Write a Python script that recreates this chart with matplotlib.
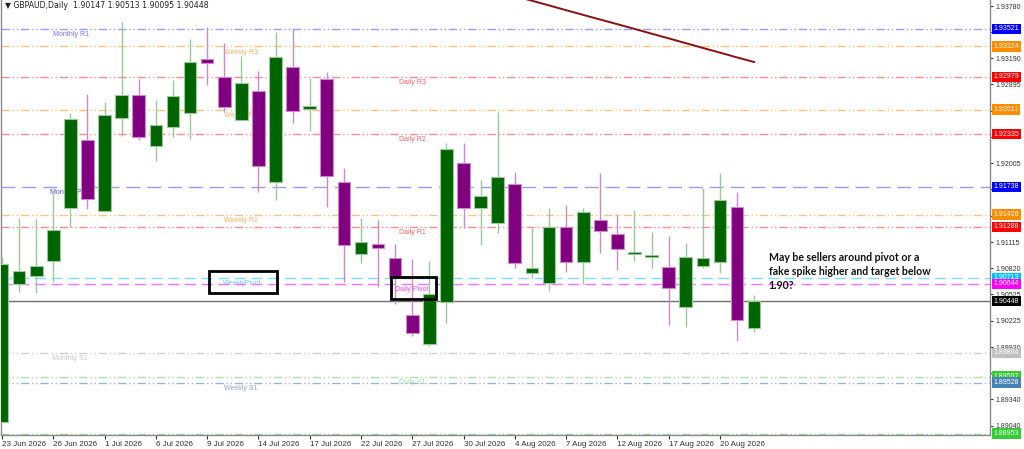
import matplotlib.pyplot as plt
from matplotlib.patches import Rectangle

# daily GBPAUD candles
opens = [1.89085, 1.90642, 1.90733, 1.90902, 1.91500, 1.92268, 1.91466, 1.92516, 1.92776, 1.92200,
         1.92414, 1.92572, 1.93182, 1.92979, 1.92493, 1.92821, 1.91794, 1.93092, 1.92618, 1.92956,
         1.91794, 1.90981, 1.91094, 1.90936, 1.90293, 1.89965, 1.90439, 1.92008, 1.91500, 1.91331,
         1.91771, 1.90767, 1.90654, 1.91286, 1.90891, 1.91365, 1.91207, 1.90981, 1.90947, 1.90834,
         1.90383, 1.90846, 1.90891, 1.91512, 1.90147]
highs = [1.90947, 1.91387, 1.91376, 1.91703, 1.92572, 1.92787, 1.92697, 1.93599, 1.92956, 1.92719,
         1.92945, 1.93408, 1.93543, 1.93362, 1.93216, 1.93046, 1.93487, 1.93532, 1.92967, 1.93035,
         1.91952, 1.91387, 1.91365, 1.91094, 1.90925, 1.90902, 1.92234, 1.92234, 1.91816, 1.92584,
         1.91907, 1.91275, 1.91500, 1.91534, 1.91500, 1.91895, 1.91432, 1.91478, 1.91229, 1.91184,
         1.91105, 1.91726, 1.91895, 1.91681, 1.90513]
lows = [1.89080, 1.90552, 1.90541, 1.90665, 1.91286, 1.91489, 1.91460, 1.92313, 1.92268, 1.92031,
        1.92302, 1.92279, 1.92888, 1.92584, 1.92490, 1.91681, 1.91591, 1.92460, 1.92369, 1.91512,
        1.90665, 1.90880, 1.90609, 1.90417, 1.90056, 1.89943, 1.90202, 1.91275, 1.91083, 1.91218,
        1.90823, 1.90710, 1.90564, 1.90778, 1.90642, 1.90992, 1.90801, 1.90902, 1.90823, 1.90180,
        1.90157, 1.90823, 1.90767, 1.89999, 1.90095]
closes = [1.90868, 1.90789, 1.90846, 1.91252, 1.92505, 1.91602, 1.92550, 1.92776, 1.92302, 1.92437,
          1.92764, 1.93148, 1.93137, 1.92640, 1.92911, 1.91974, 1.93204, 1.92595, 1.92651, 1.91861,
          1.91083, 1.91117, 1.91049, 1.90722, 1.90090, 1.90530, 1.92166, 1.91500, 1.91636, 1.91850,
          1.90880, 1.90823, 1.91286, 1.90891, 1.91455, 1.91241, 1.91038, 1.91004, 1.90970, 1.90597,
          1.90947, 1.90936, 1.91591, 1.90236, 1.90448]

# moving average (only the tail is visible)
ma_start = 30
ma_vals = [1.93893, 1.93840, 1.93787, 1.93733, 1.93680, 1.93627, 1.93575, 1.93522,
           1.93468, 1.93415, 1.93361, 1.93307, 1.93254, 1.93200, 1.93148]

date_labels = ["23 Jun 2026", "26 Jun 2026", "1 Jul 2026", "6 Jul 2026", "9 Jul 2026",
               "14 Jul 2026", "17 Jul 2026", "22 Jul 2026", "27 Jul 2026", "30 Jul 2026",
               "4 Aug 2026", "7 Aug 2026", "12 Aug 2026", "17 Aug 2026", "20 Aug 2026"]

price_ticks = [1.93780, 1.93485, 1.93190, 1.92895, 1.92600, 1.92305, 1.92005, 1.91710, 1.91410,
               1.91115, 1.90820, 1.90525, 1.90225, 1.89930, 1.89635, 1.89340, 1.89040]

level_names = ["Monthly R1", "Weekly R3", "Daily R3", "Weekly R2", "Daily R2", "Monthly Pivot",
               "Weekly R1", "Daily R1", "WeeklyPivot", "Daily Pivot", "Monthly S1", "Daily S1",
               "Weekly S1", ""]
level_values = [1.93521, 1.93324, 1.92979, 1.92611, 1.92335, 1.91738, 1.91426, 1.91288,
                1.90713, 1.90644, 1.89864, 1.89597, 1.89528, 1.88953]
current_price = 1.90448

# styles per level: line colour, text colour, box colour, linestyle, text x (bar index)
DDD = (0, (6, 2, 1, 2, 1, 2))
DASH = (0, (8, 4))
styles = [
    ("#9a9aff", "#7070ff", "#0000ff", DDD, 3.0),
    ("#ffc080", "#ffb060", "#ff8c00", DDD, 13.0),
    ("#ff8c8c", "#ff6060", "#ff0000", DDD, 23.25),
    ("#ffc080", "#ffb060", "#ff8c00", DDD, 13.0),
    ("#ff8c8c", "#ff6060", "#ff0000", DDD, 23.25),
    ("#9a9aee", "#5050e0", "#0000ff", (0, (10, 5)), 2.8),
    ("#ffc080", "#ffb060", "#ff8c00", DDD, 13.0),
    ("#ff8c8c", "#ff6060", "#ff0000", DDD, 23.25),
    ("#80dcff", "#66ccff", "#00bfff", DASH, 12.9),
    ("#ff70ff", "#ff44ff", "#ff00ff", DASH, 23.0),
    ("#d0d0d0", "#c8c8c8", "#c0c0c0", DDD, 2.95),
    ("#a8e4a8", "#a0e0a0", "#32cd32", DDD, 23.25),
    ("#98b4d4", "#8aa8cc", "#4682b4", DDD, 13.0),
    ("#98e098", "#98e098", "#32cd32", DDD, 23.25),
]

fig = plt.figure(figsize=(10.24, 4.49), dpi=100)
ax = fig.add_axes([1 / 1024, 14 / 449, 989 / 1024, 435 / 449])
ax.set_xlim(-0.06, 57.8)
ax.set_ylim(1.88938, 1.93848)

for name, val, st in zip(level_names, level_values, styles):
    lc, tc, bc, ls, tx = st
    ax.axhline(val, color=lc, lw=1, linestyle=ls, zorder=1)
    if name:
        ax.annotate(name, (tx, val), xytext=(0, -1.5), textcoords="offset points",
                    va="top", ha="left", fontsize=5, color=tc, family="Liberation Sans", zorder=1)
    ax.annotate(f"{val:.5f}", (1.0, val), xycoords=("axes fraction", "data"),
                xytext=(2.5, 0), textcoords="offset points", va="center", ha="left",
                fontsize=5, color="white", family="Liberation Sans", annotation_clip=False,
                bbox=dict(boxstyle="square,pad=0.25", fc=bc, ec="none"), zorder=10)

ax.axhline(current_price, color="#707070", lw=1, zorder=2)
ax.annotate(f"{current_price:.5f}", (1.0, current_price), xycoords=("axes fraction", "data"),
            xytext=(2.5, 0), textcoords="offset points", va="center", ha="left",
            fontsize=5, color="white", family="Liberation Sans", annotation_clip=False,
            bbox=dict(boxstyle="square,pad=0.25", fc="black", ec="none"), zorder=10)

# candles
for i in range(len(opens)):
    o, h, l, c = opens[i], highs[i], lows[i], closes[i]
    if c >= o:
        body, wick = "#006400", "#9cc89c"
    else:
        body, wick = "#800080", "#cc8acc"
    ax.vlines(i, l, h, color=wick, lw=1, zorder=3)
    ax.add_patch(Rectangle((i - 0.37, min(o, c)), 0.74, max(abs(c - o), 0.00003),
                           fc=body, ec=wick, lw=0.8, zorder=4))

ax.plot(range(ma_start, ma_start + len(ma_vals)), ma_vals, color="#8b1010", lw=1.4, zorder=5)

# highlight boxes
ax.add_patch(Rectangle((12.1, 1.90541), 3.98, 0.00248, fill=False, ec="black", lw=2, zorder=6))
ax.add_patch(Rectangle((22.75, 1.90473), 2.63, 0.00249, fill=False, ec="black", lw=2, zorder=6))

ax.text(44.85, 1.9100, "May be sellers around pivot or a\nfake spike higher and target below\n1.90?",
        va="top", ha="left", fontsize=7.6, fontweight="bold", family="Lato",
        linespacing=1.3, color="#111111", zorder=7)

# axes cosmetics; tick labels hidden under the level boxes are left blank
ax.yaxis.tick_right()
ax.set_yticks(price_ticks)
all_levels = level_values + [current_price]
tick_text = []
for t in price_ticks:
    covered = min(abs(t - v) for v in all_levels) < 0.00050
    tick_text.append("" if covered else f"{t:.5f}")
ax.set_yticklabels(tick_text)
ax.tick_params(axis="y", length=2.5, width=0.8, pad=1.5, labelsize=5, colors="#333333")
ax.set_xticks(range(0, 3 * len(date_labels), 3))
ax.set_xticklabels(date_labels, ha="left")
ax.tick_params(axis="x", length=3, width=0.8, pad=1, labelsize=5.8, colors="#333333")
for lab in ax.get_xticklabels() + ax.get_yticklabels():
    lab.set_family("Liberation Sans")
for sp in ax.spines.values():
    sp.set_color("#8a8a8a")
    sp.set_linewidth(1)
ax.spines["top"].set_visible(False)

fig.text(5 / 1024, 1 - 6 / 449, "\u25bc GBPAUD,Daily  1.90147 1.90513 1.90095 1.90448",
         fontsize=5.6, va="center", ha="left", color="#222222", family="DejaVu Sans")

fig.savefig("out.png", dpi=100)
